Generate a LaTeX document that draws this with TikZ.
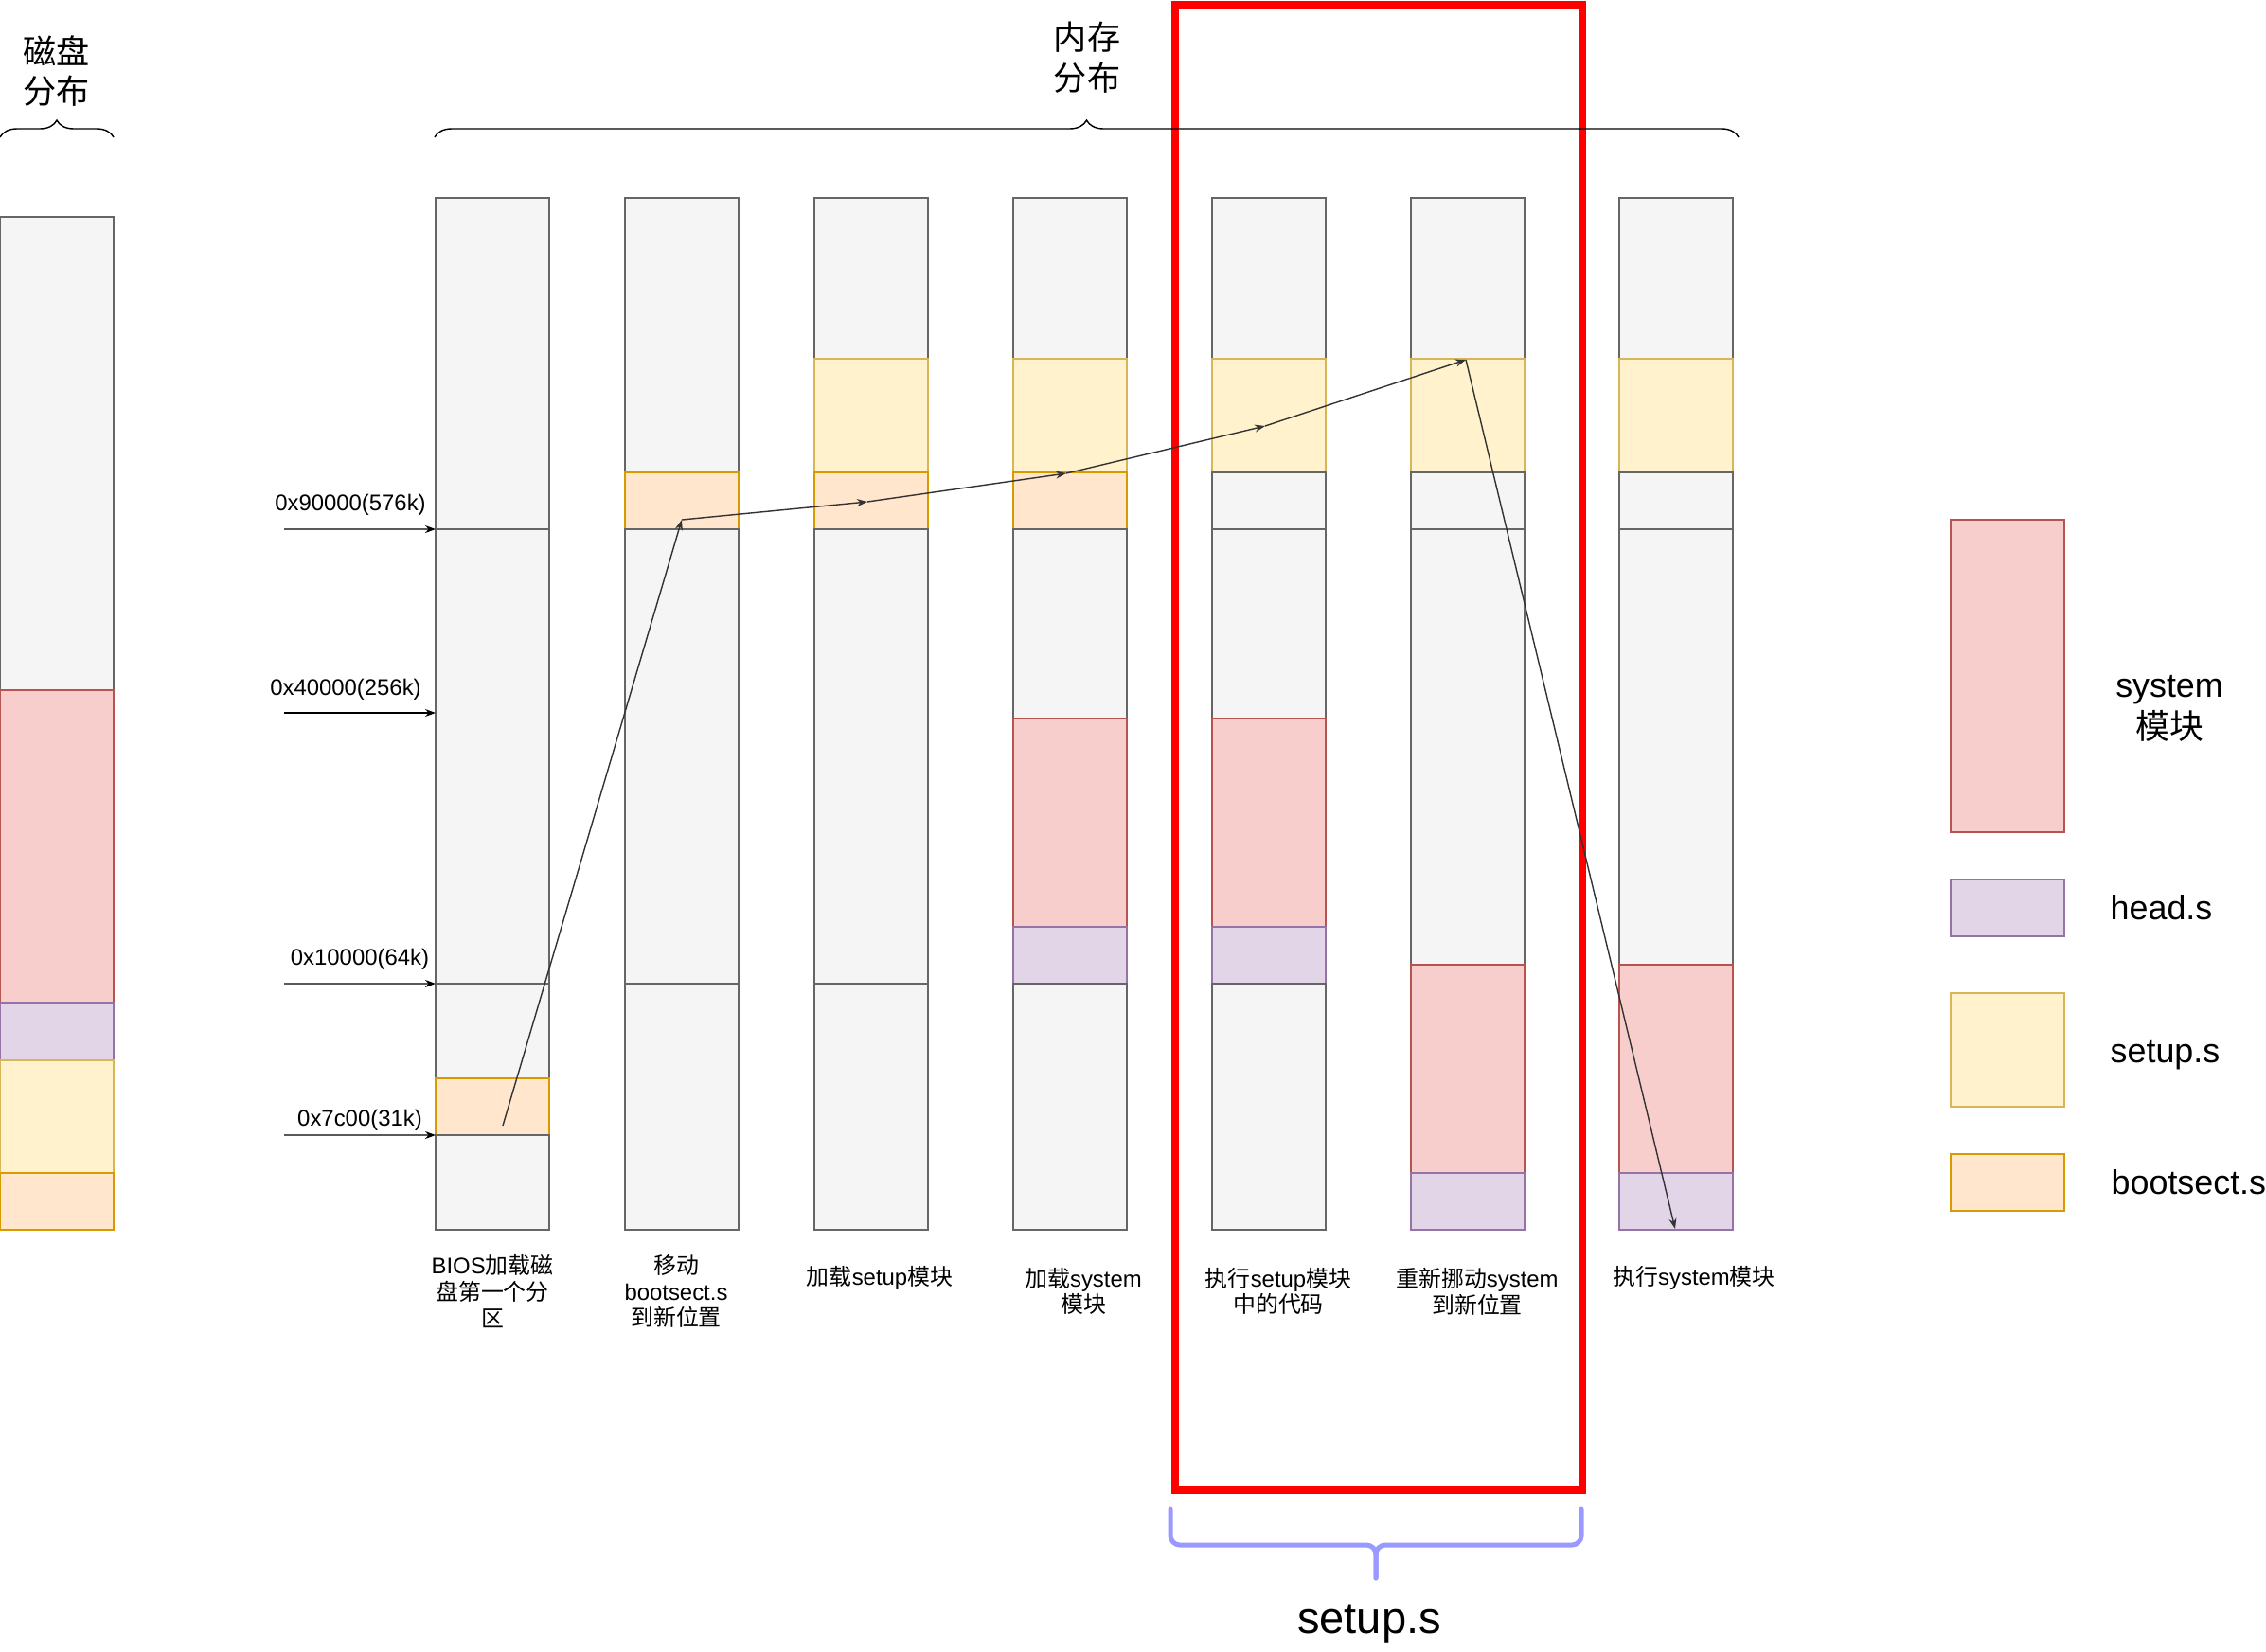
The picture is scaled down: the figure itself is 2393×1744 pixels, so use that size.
\documentclass[tikz,border=0pt]{standalone}
\usepackage{fontspec}
\setmainfont{Liberation Sans}
\newfontfamily\cjk{Noto Sans CJK SC}
\newcommand{\zh}[1]{{\cjk #1}}
\usepackage{xcolor}
\usepackage{tikz}
\usetikzlibrary{positioning}
\usetikzlibrary{calc}
\usetikzlibrary{arrows.meta}
\usetikzlibrary{decorations.pathreplacing}

\definecolor{memfill}{HTML}{F5F5F5}
\definecolor{memline}{HTML}{666666}
\definecolor{sysfill}{HTML}{F8CECC}
\definecolor{sysline}{HTML}{B85450}
\definecolor{headfill}{HTML}{E1D5E7}
\definecolor{headline}{HTML}{9673A6}
\definecolor{setupfill}{HTML}{FFF2CC}
\definecolor{setupline}{HTML}{D6B656}
\definecolor{bootfill}{HTML}{FFE6CC}
\definecolor{bootline}{HTML}{D79B00}
\definecolor{framered}{HTML}{FF0000}
\definecolor{bracelilac}{HTML}{9999FF}
\definecolor{flowgray}{HTML}{333333}

\newcommand{\colblocks}[3]{%
  \foreach \seg/\st/\yt/\yb in {#3}{%
    \pgfmathsetmacro{\blkh}{(\yb-\yt)/10}%
    \node[\st, minimum height=\blkh mm] (#1\seg) at (#2,\yt) {};
  }%
}

\begin{document}
\begin{tikzpicture}[x=0.1mm, y=-0.1mm,
    blk/.style={draw, line width=0.4pt, anchor=north west, minimum width=12mm, inner sep=0pt, outer sep=0pt},
    memblk/.style={blk, fill=memfill, draw=memline},
    sysblk/.style={blk, fill=sysfill, draw=sysline},
    headblk/.style={blk, fill=headfill, draw=headline},
    setupblk/.style={blk, fill=setupfill, draw=setupline},
    bootblk/.style={blk, fill=bootfill, draw=bootline},
    title/.style={align=center, inner sep=0pt, font=\fontsize{10}{12.2}\selectfont},
    lbl/.style={align=center, inner sep=0pt, font=\fontsize{6.8}{7.9}\selectfont},
    addr/.style={inner sep=0pt, font=\fontsize{6.8}{8}\selectfont},
    legend/.style={align=center, inner sep=0pt, font=\fontsize{10.2}{12.5}\selectfont},
    ptr/.style={line width=0.4pt, -{Stealth[length=1.1mm, width=0.8mm]}},
    flow/.style={ptr, draw=flowgray},
    topbrace/.style={line width=0.4pt, decorate, decoration={brace, amplitude=1.8mm}},
    setupframe/.style={draw=framered, line width=0.8mm},
    bluebrace/.style={draw=bracelilac, line width=0.5mm, rounded corners=1mm, line cap=round}]

    \useasboundingbox (0,0) rectangle (2393,1744);

    % disk
    \colblocks{d}{0}{a/memblk/229/729, b/sysblk/729/1059, c/headblk/1059/1120, d/setupblk/1120/1239, e/bootblk/1239/1299}

    % memory
    \colblocks{c1}{460}{a/memblk/209/559, b/memblk/559/1039, c/memblk/1039/1139, d/bootblk/1139/1199, e/memblk/1199/1299}
    \colblocks{c2}{660}{a/memblk/209/499, b/bootblk/499/559, c/memblk/559/1039, d/memblk/1039/1299}
    \colblocks{c3}{860}{a/memblk/209/379, b/setupblk/379/499, c/bootblk/499/559, d/memblk/559/1039, e/memblk/1039/1299}
    \colblocks{c4}{1070}{a/memblk/209/379, b/setupblk/379/499, c/bootblk/499/559, d/memblk/559/759, e/sysblk/759/979, f/headblk/979/1039, g/memblk/1039/1299}
    \colblocks{c5}{1280}{a/memblk/209/379, b/setupblk/379/499, c/memblk/499/559, d/memblk/559/759, e/sysblk/759/979, f/headblk/979/1039, g/memblk/1039/1299}
    \colblocks{c6}{1490}{a/memblk/209/379, b/setupblk/379/499, c/memblk/499/559, d/memblk/559/1019, e/sysblk/1019/1239, f/headblk/1239/1299}
    \colblocks{c7}{1710}{a/memblk/209/379, b/setupblk/379/499, c/memblk/499/559, d/memblk/559/1019, e/sysblk/1019/1239, f/headblk/1239/1299}

    % legend
    \colblocks{k}{2060}{a/sysblk/549/879, b/headblk/929/989, c/setupblk/1049/1169, d/bootblk/1219/1279}
    \node[legend] (ksys) at (2291,748) {system\\\zh{模块}};
    \node[legend, anchor=base west] (khead) at (2228,971) {head.s};
    \node[legend, anchor=base west] (ksetup) at (2228,1122) {setup.s};
    \node[legend, anchor=base west] (kboot) at (2229,1261) {bootsect.s};

    \node[title] (tdisk) at (60,75) {\zh{磁盘}\\\zh{分布}};
    \node[title] (tmem) at (1148,61) {\zh{内存}\\\zh{分布}};

    \draw[setupframe] (1240.5,4.5) rectangle (1670.5,1574);

    \draw[topbrace] (0,145) -- (120,145);
    \draw[topbrace] (459,145) -- (1836,145);

    \node[addr] (a90) at (370,533) {0x90000(576k)};
    \node[addr] (a40) at (365,728) {0x40000(256k)};
    \node[addr] (a10) at (380,1013) {0x10000(64k)};
    \node[addr] (a7c) at (380,1183) {0x7c00(31k)};
    \coordinate (s90) at (300,559);
    \coordinate (s40) at (300,753);
    \coordinate (s10) at (300,1039);
    \coordinate (s7c) at (300,1199);
    \draw[ptr] (s90) -- (c1a.south west);
    \draw[ptr] (s40) -- (s40 -| c1b.west);
    \draw[ptr] (s10) -- (c1b.south west);
    \draw[ptr] (s7c) -- (c1d.south west);

    \node[lbl] (l1) at (520,1364) {BIOS\zh{加载磁}\\\zh{盘第一个分}\\\zh{区}};
    \node[lbl] (l2) at (714,1364) {\zh{移动}\\bootsect.s\\\zh{到新位置}};
    \node[lbl] (l3) at (929,1350) {\zh{加载}setup\zh{模块}};
    \node[lbl] (l4) at (1144,1364) {\zh{加载}system\\\zh{模块}};
    \node[lbl] (l5) at (1350,1364) {\zh{执行}setup\zh{模块}\\\zh{中的代码}};
    \node[lbl] (l6) at (1560,1364) {\zh{重新挪动}system\\\zh{到新位置}};
    \node[lbl] (l7) at (1789,1350) {\zh{执行}system\zh{模块}};

    \coordinate (f0) at (531,1189);
    \coordinate (f1) at (720,549);
    \coordinate (f2) at (916,530);
    \coordinate (f3) at (1126,500);
    \coordinate (f4) at (1336,450);
    \coordinate (f5) at (1548,380);
    \coordinate (f6) at (1769,1298);
    \draw[flow] (f0) -- (f1);
    \draw[flow] (f1) -- (f2);
    \draw[flow] (f2) -- (f3);
    \draw[flow] (f3) -- (f4);
    \draw[flow] (f4) -- (f5);
    \draw[flow] (f5) -- (f6);

    \draw[bluebrace] (1236,1594) |- (1453,1632) -- (1453,1667);
    \draw[bluebrace] (1670,1594) |- (1453,1632) -- (1453,1667);
    \node[inner sep=0pt, anchor=base, font=\fontsize{13.4}{16}\selectfont] (bsetup) at (1446,1725) {setup.s};
\end{tikzpicture}
\end{document}
